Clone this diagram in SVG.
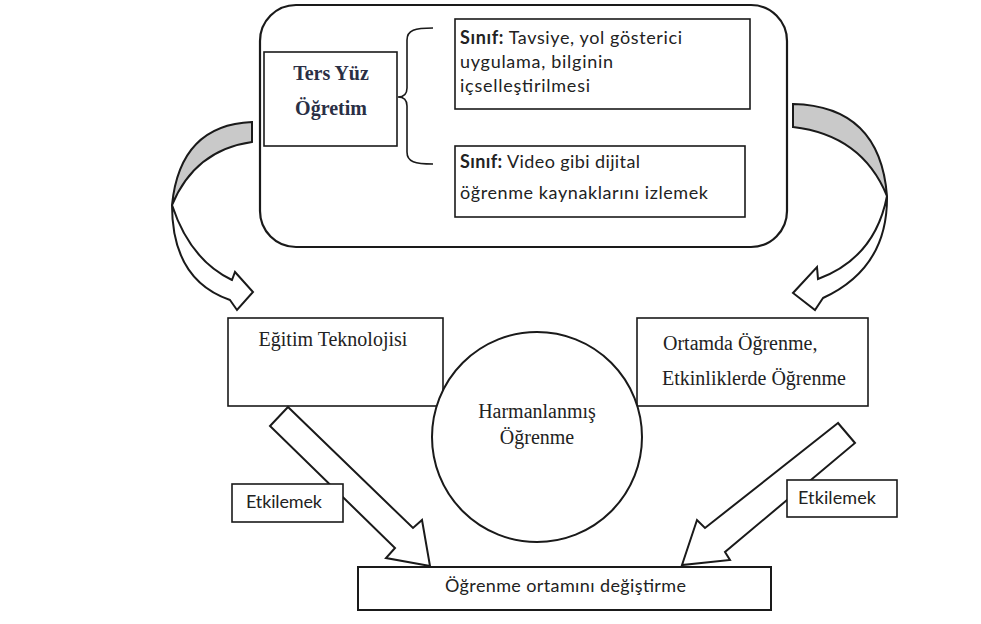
<svg xmlns="http://www.w3.org/2000/svg" width="981" height="624" viewBox="0 0 981 624">
<style>
.box{fill:#fff;stroke:#1a1a1a;stroke-width:1.6}
.arr{fill:#fff;stroke:#1a1a1a;stroke-width:2;stroke-linejoin:miter}
.gray{fill:#c9c9c9;stroke:#1a1a1a;stroke-width:2}
.serif{font-family:"Liberation Serif","Times New Roman",serif;font-size:20px;fill:#222}
.sans{font-family:Lato,"Liberation Sans",sans-serif;font-size:18px;fill:#222}
.title{font-family:"Liberation Serif","Times New Roman",serif;font-size:20px;font-weight:bold;fill:#2a2f45}
</style>
<rect width="981" height="624" fill="#fff"/>

<g id="container">
<rect class="box" x="260" y="5" width="527" height="242" rx="36" style="stroke-width:2.2"/>
</g>

<g id="ters-yuz">
<rect class="box" x="264" y="52" width="133" height="94"/>
<text class="title" x="331" y="80" text-anchor="middle">Ters Yüz</text>
<text class="title" x="331" y="115" text-anchor="middle">Öğretim</text>
</g>

<g id="sinif-1">
<rect class="box" x="455" y="19" width="295" height="90"/>
<text class="sans" x="460" y="44" textLength="222"><tspan font-weight="bold">Sınıf:</tspan> Tavsiye, yol gösterici</text>
<text class="sans" x="460" y="68" textLength="153">uygulama, bilginin</text>
<text class="sans" x="460" y="92" textLength="130">içselleştirilmesi</text>
</g>

<g id="sinif-2">
<rect class="box" x="455" y="146" width="290" height="71"/>
<text class="sans" x="460" y="168" textLength="180"><tspan font-weight="bold">Sınıf:</tspan> Video gibi dijital</text>
<text class="sans" x="460" y="199" textLength="248">öğrenme kaynaklarını izlemek</text>
</g>

<g id="egitim-teknolojisi">
<rect class="box" x="228" y="318" width="215" height="88"/>
<text class="serif" x="333" y="346" text-anchor="middle">Eğitim Teknolojisi</text>
</g>

<g id="ortamda-ogrenme">
<rect class="box" x="637" y="318" width="231" height="88"/>
<text class="serif" x="663" y="350">Ortamda Öğrenme,</text>
<text class="serif" x="662" y="385">Etkinliklerde Öğrenme</text>
</g>

<g id="harmanlanmis-ogrenme">
<circle class="box" cx="537" cy="437" r="105" style="stroke-width:2"/>
<text class="serif" x="537" y="418" text-anchor="middle">Harmanlanmış</text>
<text class="serif" x="537" y="444" text-anchor="middle">Öğrenme</text>
</g>

<g id="ogrenme-ortami">
<rect class="box" x="358" y="567" width="413" height="43" style="stroke-width:2"/>
<text class="sans" x="445" y="592" textLength="241">Öğrenme ortamını değiştirme</text>
</g>

<g id="connectors">
<path fill="none" stroke="#1a1a1a" stroke-width="1.6" d="M433,28 C415,28 407,30 407,40 L407,88 Q407,97 398,97 Q407,97 407,106 L407,152 C407,162 415,164 433,164"/>
<path class="gray" d="M793,104 Q880,106 887,196 Q862,135 793,127 Z"/>
<path class="arr" d="M887,196 Q888,268 823,298 L815,310 L793,293 L817,267 L818,279 Q875,258 887,196 Z"/>
<path class="gray" d="M252,122 Q180,125 172,205 Q195,150 252,142 Z"/>
<path class="arr" d="M172,205 Q172,280 230,300 L237,310 L253,292 L235,272 L232,280 Q190,260 172,205 Z"/>
<polygon class="arr" points="288,407 413,528 422,520 430,566 386,558 395,548 270,426"/>
<polygon class="arr" points="838,423 705,528 697,520 682,565 730,560 725,552 855,443"/>
</g>

<g id="etkilemek-left">
<rect class="box" x="232" y="484" width="111" height="38"/>
<text class="sans" x="246" y="508" textLength="76">Etkilemek</text>
</g>
<g id="etkilemek-right">
<rect class="box" x="787" y="480" width="110" height="37"/>
<text class="sans" x="798" y="504" textLength="78">Etkilemek</text>
</g>
</svg>
